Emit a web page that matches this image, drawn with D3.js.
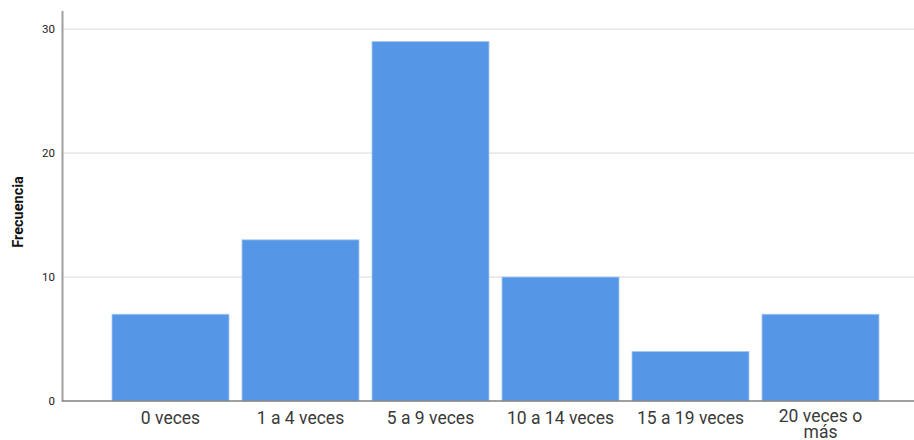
<!DOCTYPE html>
<html><head><meta charset="utf-8">
<script src="https://cdn.jsdelivr.net/npm/d3@7"></script>
<style>body{margin:0;background:#fff;} svg{display:block;}</style>
</head><body>
<svg id="c" width="914" height="440"></svg>
<script>
const categories = ["0 veces", "1 a 4 veces", "5 a 9 veces", "10 a 14 veces", "15 a 19 veces", "20 veces o más"];
const values = [7, 13, 29, 10, 4, 7];
const yTicks = [0, 10, 20, 30];
const yLabel = "Frecuencia";

const svg = d3.select("#c");
const font = "Roboto, 'Liberation Sans', Arial, sans-serif";
const x = d3.scaleBand().domain(categories).range([105.5, 885.5]).paddingInner(0.1).paddingOuter(0.05);
const y = d3.scaleLinear().domain([0, 31.5]).range([401, 10.5]);
const left = 62, right = 914;

// gridlines
svg.append("g").selectAll("line").data(yTicks.filter(d => d > 0)).join("line")
  .attr("x1", left).attr("x2", right).attr("y1", d => y(d)).attr("y2", d => y(d))
  .attr("stroke", "#d9d9d9").attr("stroke-width", 1);

// bars
svg.append("g").selectAll("rect").data(values).join("rect")
  .attr("x", (d, i) => x(categories[i]))
  .attr("y", d => y(d))
  .attr("width", x.bandwidth())
  .attr("height", d => y(0) - y(d))
  .attr("fill", "#5596e6")
  .attr("stroke", "#a9c8f0").attr("stroke-width", 0.8);

// y axis
const yAxis = d3.axisLeft(y).tickValues(yTicks).tickSize(0).tickPadding(7);
const gy = svg.append("g").attr("transform", `translate(${left},0)`).call(yAxis);
gy.select(".domain").attr("stroke", "#a0a0a0").attr("stroke-width", 2);
gy.selectAll("text").attr("font-family", font).attr("font-size", 11.5).attr("fill", "#222");

// baseline
svg.append("line").attr("x1", left).attr("x2", right).attr("y1", y(0)).attr("y2", y(0))
  .attr("stroke", "#808080").attr("stroke-width", 1.5);

// x labels
const xl = svg.append("g").selectAll("text").data(categories).join("text")
  .attr("x", d => x(d) + x.bandwidth() / 2)
  .attr("y", d => d === "20 veces o más" ? 422 : 424)
  .attr("text-anchor", "middle")
  .attr("font-family", font).attr("font-size", 17.5).attr("fill", "#3a3a3a");
xl.each(function(d) {
  const t = d3.select(this);
  if (d === "20 veces o más") {
    t.append("tspan").attr("x", x(d) + x.bandwidth() / 2).text("20 veces o");
    t.append("tspan").attr("x", x(d) + x.bandwidth() / 2).attr("dy", 16).text("más");
  } else t.text(d);
});

// y label
svg.append("text").attr("transform", "translate(23,212) rotate(-90)")
  .attr("text-anchor", "middle").attr("font-family", font).attr("font-weight", "bold")
  .attr("font-size", 14.5).attr("fill", "#111").text(yLabel);
</script>
</body></html>
